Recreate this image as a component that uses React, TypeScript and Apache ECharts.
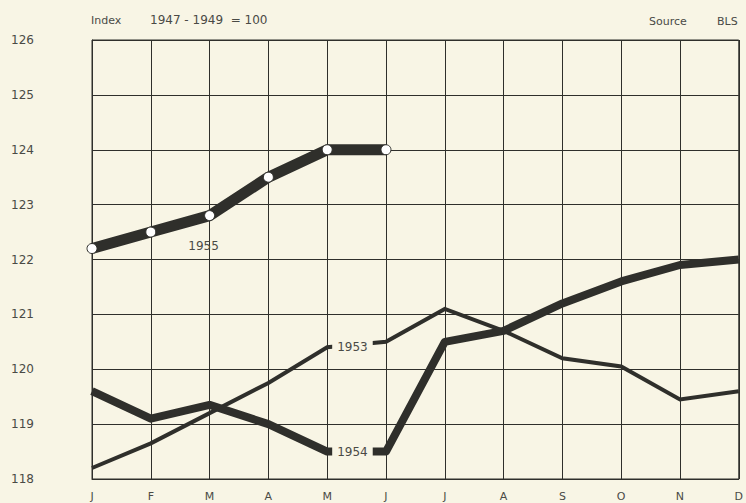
import React, { useEffect, useRef } from "react";
import * as echarts from "echarts";

const months = ["J", "F", "M", "A", "M", "J", "J", "A", "S", "O", "N", "D"];
const yTicks = [118, 119, 120, 121, 122, 123, 124, 125, 126];
const s1955 = [122.2, 122.5, 122.8, 123.5, 124.0, 124.0, null, null, null, null, null, null];
const s1954 = [119.6, 119.1, 119.35, 119.0, 118.5, 118.5, 120.5, 120.7, 121.2, 121.6, 121.9, 122.0];
const s1953 = [118.2, 118.65, 119.2, 119.75, 120.4, 120.5, 121.1, 120.7, 120.2, 120.05, 119.45, 119.6];
const labelIndex = 4; // May: where the 1953 and 1954 year labels sit
const label1955Index = 2;
const titleLeft = "Index";
const titleBase = "1947 - 1949  = 100";
const sourceLabel = "Source";
const sourceValue = "BLS";

const BG = "#f8f5e5";
const INK = "#2f2f2b";
const TEXT = "#4a4a45";
const FONT = "DejaVu Sans";

export default function App() {
  const ref = useRef<HTMLDivElement>(null);
  useEffect(() => {
    if (!ref.current) return;
    const chart = echarts.init(ref.current, undefined, { renderer: "svg" });
    const yearLabel = (text: string) => ({
      show: true,
      formatter: text,
      position: "right",
      distance: 5,
      color: TEXT,
      fontFamily: FONT,
      fontSize: 12,
      backgroundColor: BG,
      padding: [1, 5, 1, 5],
    });
    const d1953 = s1953.map((v, i) =>
      i === labelIndex ? { value: v, label: yearLabel("1953") } : v
    );
    const d1954 = s1954.map((v, i) =>
      i === labelIndex ? { value: v, label: yearLabel("1954") } : v
    );
    const d1955 = s1955.map((v, i) =>
      i === label1955Index
        ? {
            value: v,
            label: {
              show: true,
              formatter: "1955",
              position: "bottom",
              distance: 19,
              offset: [-6, 0],
              color: TEXT,
              fontFamily: FONT,
              fontSize: 12,
            },
          }
        : v
    );
    chart.setOption({
      animation: false,
      backgroundColor: BG,
      textStyle: { fontFamily: FONT },
      grid: {
        left: 92,
        right: 3,
        top: 40,
        bottom: 24,
        show: true,
        borderColor: INK,
        borderWidth: 1,
      },
      graphic: [
        { type: "text", x: 91, y: 20, style: { text: titleLeft, fill: TEXT, font: `11px "${FONT}"`, verticalAlign: "middle" } },
        { type: "text", x: 150, y: 20, style: { text: titleBase, fill: TEXT, font: `12px "${FONT}"`, verticalAlign: "middle" } },
        { type: "text", x: 649, y: 21, style: { text: sourceLabel, fill: TEXT, font: `11px "${FONT}"`, verticalAlign: "middle" } },
        { type: "text", x: 717, y: 21, style: { text: sourceValue, fill: TEXT, font: `11px "${FONT}"`, verticalAlign: "middle" } },
      ],
      xAxis: {
        type: "category",
        data: months,
        boundaryGap: false,
        axisLine: { show: true, lineStyle: { color: INK, width: 1 } },
        axisTick: { show: false },
        axisLabel: { color: TEXT, fontSize: 11, margin: 12, fontFamily: FONT, interval: 0 },
        splitLine: { show: true, lineStyle: { color: INK, width: 1 } },
      },
      yAxis: {
        type: "value",
        min: yTicks[0],
        max: yTicks[yTicks.length - 1],
        interval: 1,
        axisLine: { show: true, lineStyle: { color: INK, width: 1 } },
        axisTick: { show: false },
        axisLabel: { color: TEXT, fontSize: 12, margin: 58, fontFamily: FONT },
        splitLine: { show: true, lineStyle: { color: INK, width: 1 } },
      },
      series: [
        {
          name: "1953",
          type: "line",
          data: d1953,
          symbol: "circle",
          symbolSize: 0,
          showSymbol: true,
          lineStyle: { color: INK, width: 4, cap: "butt", join: "miter" },
          itemStyle: { color: INK },
          z: 2,
        },
        {
          name: "1954",
          type: "line",
          data: d1954,
          symbol: "circle",
          symbolSize: 0,
          showSymbol: true,
          lineStyle: { color: INK, width: 8, cap: "butt", join: "round" },
          itemStyle: { color: INK },
          z: 3,
        },
        {
          name: "1955",
          type: "line",
          data: d1955,
          symbol: "circle",
          symbolSize: 10,
          showSymbol: true,
          connectNulls: false,
          lineStyle: { color: INK, width: 11, cap: "butt", join: "round" },
          itemStyle: { color: "#ffffff", borderColor: INK, borderWidth: 1 },
          z: 4,
        },
      ],
    });
    return () => chart.dispose();
  }, []);
  return (
    <div
      ref={ref}
      style={{ position: "fixed", left: 0, top: 0, width: 746, height: 503 }}
    />
  );
}
